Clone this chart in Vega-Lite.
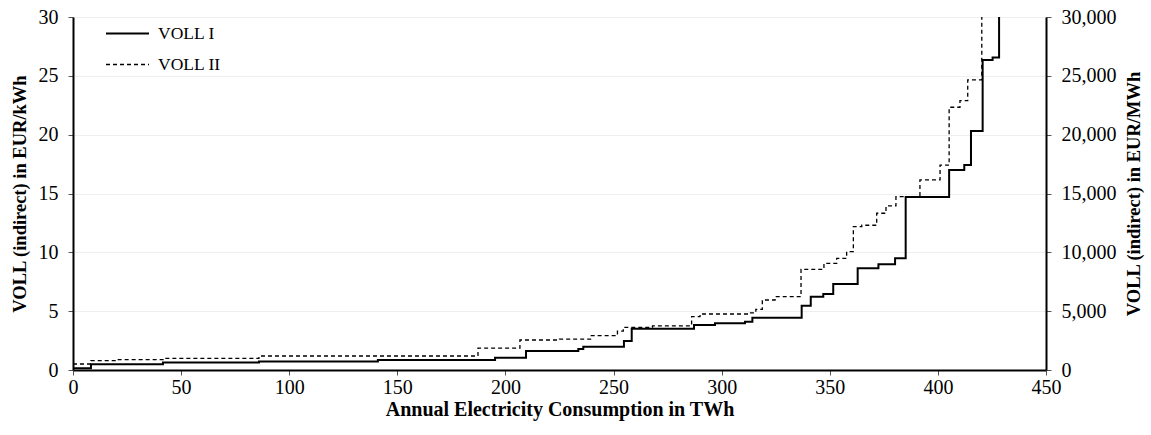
{
  "$schema": "https://vega.github.io/schema/vega-lite/v6.json",
  "width": 973,
  "height": 353,
  "autosize": "none",
  "padding": {"left": 73, "top": 17, "right": 105, "bottom": 65},
  "background": "white",
  "config": {
    "font": "Liberation Serif",
    "view": {"stroke": null},
    "axis": {
      "labelFont": "Liberation Serif",
      "titleFont": "Liberation Serif",
      "labelColor": "#000000",
      "titleColor": "#000000",
      "labelFontSize": 20,
      "titleFontSize": 20,
      "titleFontWeight": "bold",
      "domainColor": "#000000",
      "domainWidth": 2,
      "tickColor": "#555555",
      "tickSize": 5,
      "tickWidth": 1,
      "labelFlush": false,
      "labelOverlap": false
    },
    "legend": {
      "labelFont": "Liberation Serif",
      "labelFontSize": 17.5,
      "labelColor": "#000000"
    }
  },
  "datasets": {
    "curves": [
      {"series": "VOLL I", "twh": 0, "eur_kwh": 0.15},
      {"series": "VOLL I", "twh": 8.3, "eur_kwh": 0.48},
      {"series": "VOLL I", "twh": 41.6, "eur_kwh": 0.63},
      {"series": "VOLL I", "twh": 86, "eur_kwh": 0.73},
      {"series": "VOLL I", "twh": 141, "eur_kwh": 0.86},
      {"series": "VOLL I", "twh": 195.2, "eur_kwh": 1.05},
      {"series": "VOLL I", "twh": 209.5, "eur_kwh": 1.61},
      {"series": "VOLL I", "twh": 233.7, "eur_kwh": 1.78},
      {"series": "VOLL I", "twh": 236, "eur_kwh": 1.98},
      {"series": "VOLL I", "twh": 254.8, "eur_kwh": 2.47},
      {"series": "VOLL I", "twh": 258.4, "eur_kwh": 3.5},
      {"series": "VOLL I", "twh": 287.2, "eur_kwh": 3.82},
      {"series": "VOLL I", "twh": 296.9, "eur_kwh": 3.97},
      {"series": "VOLL I", "twh": 310.8, "eur_kwh": 4.11},
      {"series": "VOLL I", "twh": 314.2, "eur_kwh": 4.45},
      {"series": "VOLL I", "twh": 337, "eur_kwh": 5.47},
      {"series": "VOLL I", "twh": 341.2, "eur_kwh": 6.23},
      {"series": "VOLL I", "twh": 347, "eur_kwh": 6.46},
      {"series": "VOLL I", "twh": 351.6, "eur_kwh": 7.31},
      {"series": "VOLL I", "twh": 362.9, "eur_kwh": 8.64},
      {"series": "VOLL I", "twh": 372.5, "eur_kwh": 8.98},
      {"series": "VOLL I", "twh": 380.2, "eur_kwh": 9.49},
      {"series": "VOLL I", "twh": 385.1, "eur_kwh": 14.7},
      {"series": "VOLL I", "twh": 405.2, "eur_kwh": 17.0},
      {"series": "VOLL I", "twh": 412.2, "eur_kwh": 17.42},
      {"series": "VOLL I", "twh": 415.3, "eur_kwh": 20.31},
      {"series": "VOLL I", "twh": 420.7, "eur_kwh": 26.35},
      {"series": "VOLL I", "twh": 425.3, "eur_kwh": 26.55},
      {"series": "VOLL I", "twh": 428.3, "eur_kwh": 40},
      {"series": "VOLL II", "twh": 0, "eur_kwh": 0.51},
      {"series": "VOLL II", "twh": 8.3, "eur_kwh": 0.79},
      {"series": "VOLL II", "twh": 20, "eur_kwh": 0.88},
      {"series": "VOLL II", "twh": 41.6, "eur_kwh": 0.99},
      {"series": "VOLL II", "twh": 86, "eur_kwh": 1.19},
      {"series": "VOLL II", "twh": 187.3, "eur_kwh": 1.86},
      {"series": "VOLL II", "twh": 206.7, "eur_kwh": 2.55},
      {"series": "VOLL II", "twh": 225, "eur_kwh": 2.62},
      {"series": "VOLL II", "twh": 239.4, "eur_kwh": 2.92},
      {"series": "VOLL II", "twh": 251.8, "eur_kwh": 3.3},
      {"series": "VOLL II", "twh": 254.5, "eur_kwh": 3.63},
      {"series": "VOLL II", "twh": 268, "eur_kwh": 3.75},
      {"series": "VOLL II", "twh": 286.1, "eur_kwh": 4.53},
      {"series": "VOLL II", "twh": 290, "eur_kwh": 4.76},
      {"series": "VOLL II", "twh": 313, "eur_kwh": 4.85},
      {"series": "VOLL II", "twh": 315.8, "eur_kwh": 5.16},
      {"series": "VOLL II", "twh": 318.8, "eur_kwh": 5.95},
      {"series": "VOLL II", "twh": 324.7, "eur_kwh": 6.23},
      {"series": "VOLL II", "twh": 336.7, "eur_kwh": 8.56},
      {"series": "VOLL II", "twh": 347.3, "eur_kwh": 9.07},
      {"series": "VOLL II", "twh": 353.2, "eur_kwh": 9.49},
      {"series": "VOLL II", "twh": 357.8, "eur_kwh": 10.06},
      {"series": "VOLL II", "twh": 360.9, "eur_kwh": 12.18},
      {"series": "VOLL II", "twh": 364.8, "eur_kwh": 12.3},
      {"series": "VOLL II", "twh": 371.7, "eur_kwh": 13.32},
      {"series": "VOLL II", "twh": 376, "eur_kwh": 13.94},
      {"series": "VOLL II", "twh": 380.6, "eur_kwh": 14.73},
      {"series": "VOLL II", "twh": 391.7, "eur_kwh": 16.15},
      {"series": "VOLL II", "twh": 401, "eur_kwh": 17.42},
      {"series": "VOLL II", "twh": 405.2, "eur_kwh": 22.33},
      {"series": "VOLL II", "twh": 410.2, "eur_kwh": 22.89},
      {"series": "VOLL II", "twh": 413.8, "eur_kwh": 24.65},
      {"series": "VOLL II", "twh": 420.3, "eur_kwh": 40}
    ],
    "mwh": [{"mwh": 0}, {"mwh": 30000}]
  },
  "layer": [
    {
      "data": {"name": "curves"},
      "mark": {"type": "line", "interpolate": "step-after", "clip": true, "color": "#000000"},
      "encoding": {
        "x": {
          "field": "twh",
          "type": "quantitative",
          "scale": {"domain": [0, 450], "nice": false},
          "axis": {
            "title": "Annual Electricity Consumption in TWh",
            "values": [0, 50, 100, 150, 200, 250, 300, 350, 400, 450],
            "grid": false,
            "labelPadding": 2,
            "titlePadding": 2
          }
        },
        "y": {
          "field": "eur_kwh",
          "type": "quantitative",
          "scale": {"domain": [0, 30], "nice": false},
          "axis": {
            "title": "VOLL (indirect)  in EUR/kWh",
            "titleFontSize": 18.5,
            "values": [0, 5, 10, 15, 20, 25, 30],
            "grid": true,
            "gridColor": "#efefef",
            "gridWidth": 1,
            "labelPadding": 10,
            "titlePadding": 9
          }
        },
        "strokeDash": {
          "field": "series",
          "type": "nominal",
          "scale": {"domain": ["VOLL I", "VOLL II"], "range": [[1, 0], [4, 3]]},
          "legend": {
            "title": null,
            "orient": "none",
            "legendX": 32,
            "legendY": -6,
            "symbolType": "stroke",
            "symbolSize": 1849,
            "symbolStrokeWidth": 1,
            "symbolStrokeColor": "#000000",
            "labelOffset": 8,
            "rowPadding": -6
          }
        },
        "strokeWidth": {
          "field": "series",
          "type": "nominal",
          "scale": {"domain": ["VOLL I", "VOLL II"], "range": [2, 1.3]},
          "legend": null
        }
      }
    },
    {
      "data": {"name": "mwh"},
      "mark": {"type": "rule", "opacity": 0},
      "encoding": {
        "y": {
          "field": "mwh",
          "type": "quantitative",
          "scale": {"domain": [0, 30000], "nice": false},
          "axis": {
            "orient": "right",
            "title": "VOLL (indirect) in EUR/MWh",
            "titleFontSize": 18.5,
            "titleAngle": 270,
            "titleBaseline": "top",
            "values": [0, 5000, 10000, 15000, 20000, 25000, 30000],
            "format": ",d",
            "grid": false,
            "labelPadding": 10,
            "titlePadding": 8
          }
        }
      }
    }
  ],
  "resolve": {"scale": {"y": "independent"}}
}
